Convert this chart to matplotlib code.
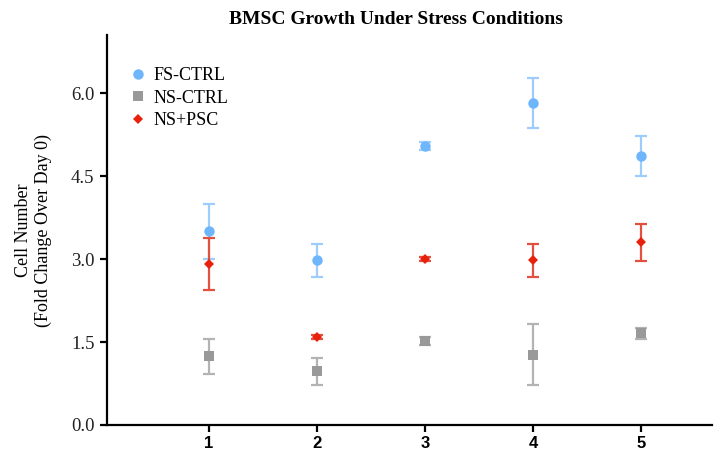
import numpy as np
import matplotlib
matplotlib.use("Agg")
import matplotlib.pyplot as plt

# days
days = [1, 2, 3, 4, 5]

fs_ctrl = [3.50, 2.98, 5.05, 5.82, 4.86]
fs_ctrl_err = [0.50, 0.30, 0.07, 0.45, 0.36]

ns_ctrl = [1.24, 0.97, 1.52, 1.27, 1.66]
ns_ctrl_err = [0.31, 0.25, 0.08, 0.55, 0.10]

ns_psc = [2.92, 1.59, 3.00, 2.98, 3.30]
ns_psc_err = [0.47, 0.03, 0.03, 0.30, 0.33]

yticks = [0.0, 1.5, 3.0, 4.5, 6.0]

serif = ["Liberation Serif", "DejaVu Serif"]

fig = plt.figure(figsize=(7.16, 4.62), dpi=100)
ax = fig.add_axes([0.1494, 0.0801, 0.8446, 0.8439])

series = [
    ("FS-CTRL", fs_ctrl, fs_ctrl_err, "o", 7.5, "#6db6fb", "#9fcdfb"),
    ("NS-CTRL", ns_ctrl, ns_ctrl_err, "s", 6.5, "#999999", "#b3b3b3"),
    ("NS+PSC", ns_psc, ns_psc_err, "D", 5.0, "#e8210c", "#e3503f"),
]

for name, vals, err, mk, ms, col, ecol in series:
    ax.errorbar(days, vals, yerr=err, fmt="none", ecolor=ecol,
                elinewidth=1.6, capsize=4, capthick=1.6, zorder=2)
    ax.plot(days, vals, linestyle="none", marker=mk, markersize=ms,
            color=col, markeredgewidth=0, label=name, zorder=3)

ax.set_xlim(0.058, 5.65)
ax.set_ylim(0, 7.05)
ax.set_xticks(days)
ax.set_xticklabels([str(d) for d in days], fontweight="bold",
                   fontsize=12, family=["Liberation Sans", "DejaVu Sans"])
ax.set_yticks(yticks)
ax.set_yticklabels(["%.1f" % t for t in yticks], fontsize=13.5,
                   family=serif, color="#222222")

for s in ["top", "right"]:
    ax.spines[s].set_visible(False)
for s in ["left", "bottom"]:
    ax.spines[s].set_linewidth(1.6)
ax.tick_params(axis="both", direction="out", width=1.6, length=5)
ax.tick_params(axis="x", pad=3)
ax.tick_params(axis="y", pad=4)

ax.set_ylabel("Cell Number\n(Fold Change Over Day 0)", family=serif,
              fontsize=13, labelpad=14)

fig.text(396 / 716, 1 - 19 / 462, "BMSC Growth Under Stress Conditions",
         ha="center", va="center", family=serif, fontweight="bold",
         fontsize=14)

leg = ax.legend(loc="upper left", bbox_to_anchor=(0.03, 0.936), frameon=False,
                prop={"family": serif, "size": 13}, handlelength=0.6,
                handletextpad=0.6, labelspacing=0.3, borderaxespad=0)

fig.savefig("out.png", dpi=100)
